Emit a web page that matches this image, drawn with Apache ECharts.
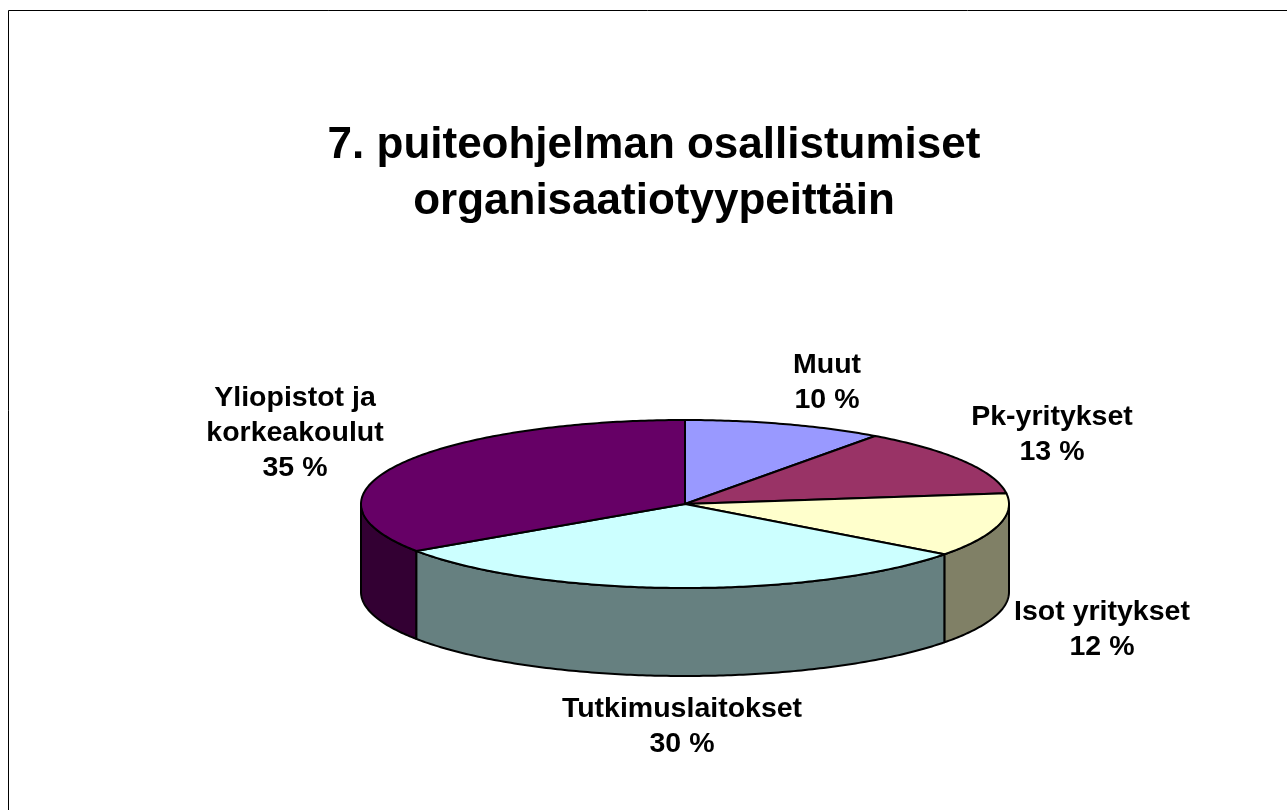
<!DOCTYPE html>
<html>
<head>
<meta charset="utf-8">
<style>html,body{margin:0;padding:0;background:#fff}#c{width:1287px;height:810px}</style>
<script src="https://cdn.jsdelivr.net/npm/echarts@6/dist/echarts.min.js"></script>
</head>
<body>
<div id="c"></div>
<script>
var titleText = '7. puiteohjelman osallistumiset\norganisaatiotyypeittäin';
var categories = ['Muut', 'Pk-yritykset', 'Isot yritykset', 'Tutkimuslaitokset', 'Yliopistot ja\nkorkeakoulut'];
var values = [10, 13, 12.3, 30.4, 34.5];
var topColors = ['#9999FF', '#993366', '#FFFFCC', '#CCFFFF', '#660066'];
var wallColors = ['#666699', '#662244', '#808066', '#668080', '#330033'];
var labelPositions = [[827, 383], [1052, 435], [1102, 630], [682, 727], [295, 433]];

var CX = 685, CY = 504, RX = 324, RY = 84, DEPTH = 88;
var total = values.reduce(function (a, b) { return a + b; }, 0);

function pt(a, dy) {
  return [CX + RX * Math.sin(a), CY - RY * Math.cos(a) + (dy || 0)];
}
function arcPts(a0, a1, dy) {
  var n = Math.max(2, Math.ceil(Math.abs(a1 - a0) * 80)), out = [];
  for (var i = 0; i <= n; i++) out.push(pt(a0 + (a1 - a0) * i / n, dy));
  return out;
}
function angles(idx) {
  var s = 0;
  for (var i = 0; i < idx; i++) s += values[i];
  return [s / total * 2 * Math.PI, (s + values[idx]) / total * 2 * Math.PI];
}
var lineStyle = { stroke: '#000', lineWidth: 2, lineJoin: 'round' };

function renderSlice(params, api) {
  var i = api.value(0), a = angles(i), kids = [];
  var from = Math.max(a[0], Math.PI / 2), to = Math.min(a[1], 1.5 * Math.PI);
  if (to > from) {
    var wall = arcPts(from, to, 0).concat(arcPts(to, from, DEPTH));
    kids.push({
      type: 'polygon', z2: 1, shape: { points: wall },
      style: Object.assign({ fill: wallColors[i] }, lineStyle)
    });
  }
  var top = [[CX, CY]].concat(arcPts(a[0], a[1], 0));
  kids.push({
    type: 'polygon', z2: 2, shape: { points: top },
    style: Object.assign({ fill: topColors[i] }, lineStyle)
  });
  var lp = labelPositions[i];
  kids.push({
    type: 'text', z2: 3, x: lp[0], y: lp[1],
    style: {
      text: categories[i] + '\n' + Math.round(values[i]) + ' %',
      fill: '#000', font: 'bold 28.5px "Liberation Sans", Arial, sans-serif',
      align: 'center', verticalAlign: 'middle', lineHeight: 35
    }
  });
  return { type: 'group', children: kids };
}

var chart = echarts.init(document.getElementById('c'), null, { renderer: 'canvas' });
chart.setOption({
  animation: false,
  backgroundColor: '#fff',
  title: {
    text: titleText, left: 649, top: 113, textAlign: 'center',
    textStyle: { fontFamily: '"Liberation Sans", Arial, sans-serif', fontWeight: 'bold', fontSize: 44, lineHeight: 56, color: '#000' }
  },
  graphic: [
    { type: 'line', shape: { x1: 8.5, y1: 10.5, x2: 1287, y2: 10.5 }, style: { stroke: '#000', lineWidth: 1 } },
    { type: 'line', shape: { x1: 8.5, y1: 10.5, x2: 8.5, y2: 810 }, style: { stroke: '#000', lineWidth: 1 } }
  ],
  series: [{
    type: 'custom', coordinateSystem: 'none', renderItem: renderSlice,
    data: values.map(function (v, i) { return [i, v]; })
  }]
});
</script>
</body>
</html>
